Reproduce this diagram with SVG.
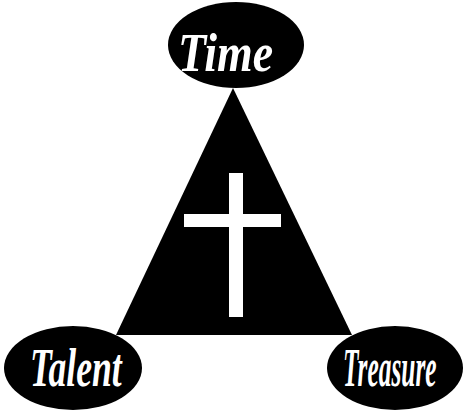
<svg xmlns="http://www.w3.org/2000/svg" width="464" height="412" viewBox="0 0 464 412">
<style>
.node ellipse{fill:#000}
.lbl{font-family:"Liberation Serif","DejaVu Serif",serif;font-style:italic;font-weight:bold;fill:#fff;font-size:54px}
</style>
<rect width="464" height="412" fill="#fff"/>
<g id="connectors">
<polygon points="233,88 116,335 352,335" fill="#000"/>
<g id="cross" fill="#fff">
<rect x="229" y="173" width="14" height="144"/>
<rect x="184" y="214" width="97" height="13"/>
</g>
</g>
<g id="time" class="node">
<ellipse cx="236" cy="45" rx="68" ry="43"/>
<text class="lbl" transform="translate(178,71) scale(0.85,1)">Time</text>
</g>
<g id="talent" class="node">
<ellipse cx="73" cy="368" rx="69" ry="42"/>
<text class="lbl" transform="translate(30,386) scale(0.66,1)">Talent</text>
</g>
<g id="treasure" class="node">
<ellipse cx="395" cy="368" rx="68" ry="42"/>
<text class="lbl" transform="translate(343,386) scale(0.47,1)">Treasure</text>
</g>
</svg>
